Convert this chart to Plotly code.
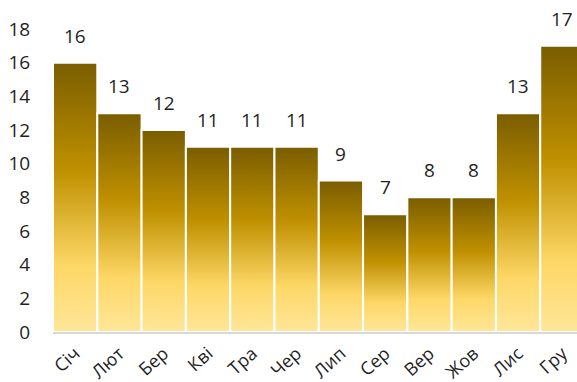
import plotly.graph_objects as go

months = ["Січ", "Лют", "Бер", "Кві", "Тра", "Чер", "Лип", "Сер", "Вер", "Жов", "Лис", "Гру"]
values = [16, 13, 12, 11, 11, 11, 9, 7, 8, 8, 13, 17]
y_ticks = [0, 2, 4, 6, 8, 10, 12, 14, 16, 18]

FONT = "Open Sans"
TXT = "#1f1f1f"
gradient = [[0.0, "#ffe699"], [0.25, "#fdd766"], [0.6, "#bf9000"], [1.0, "#7a5d00"]]

fig = go.Figure()
for i, (m, v) in enumerate(zip(months, values)):
    fig.add_trace(go.Scatter(
        x=[i - 0.5, i - 0.5, i + 0.5, i + 0.5, i - 0.5],
        y=[0, v, v, 0, 0],
        mode="lines",
        fill="toself",
        fillgradient=dict(type="vertical", colorscale=gradient),
        line=dict(color="white", width=2),
        hoverinfo="skip",
        showlegend=False,
    ))
    fig.add_annotation(x=i, y=v, text=str(v), showarrow=False,
                       yanchor="bottom", yshift=12,
                       font=dict(family=FONT, size=19, color=TXT))

fig.update_layout(
    width=577, height=382,
    margin=dict(l=53, r=0, t=29, b=50),
    paper_bgcolor="white", plot_bgcolor="white",
    font=dict(family=FONT, size=18, color=TXT),
    xaxis=dict(
        range=[-0.5, 11.33], automargin=False,
        tickmode="array", tickvals=list(range(len(months))), ticktext=months,
        tickangle=-42, showgrid=False, zeroline=False,
        showline=True, linecolor="#d9d9d9", linewidth=2,
        ticks="outside", ticklen=2, tickcolor="rgba(0,0,0,0)",
        tickfont=dict(family=FONT, size=18, color=TXT),
    ),
    yaxis=dict(
        range=[0, 18], tickmode="array", tickvals=y_ticks, automargin=False,
        showgrid=False, zeroline=False, showline=False,
        ticks="outside", ticklen=18, tickcolor="rgba(0,0,0,0)",
        tickfont=dict(family=FONT, size=19, color=TXT),
    ),
)

fig.write_html("out.html")
